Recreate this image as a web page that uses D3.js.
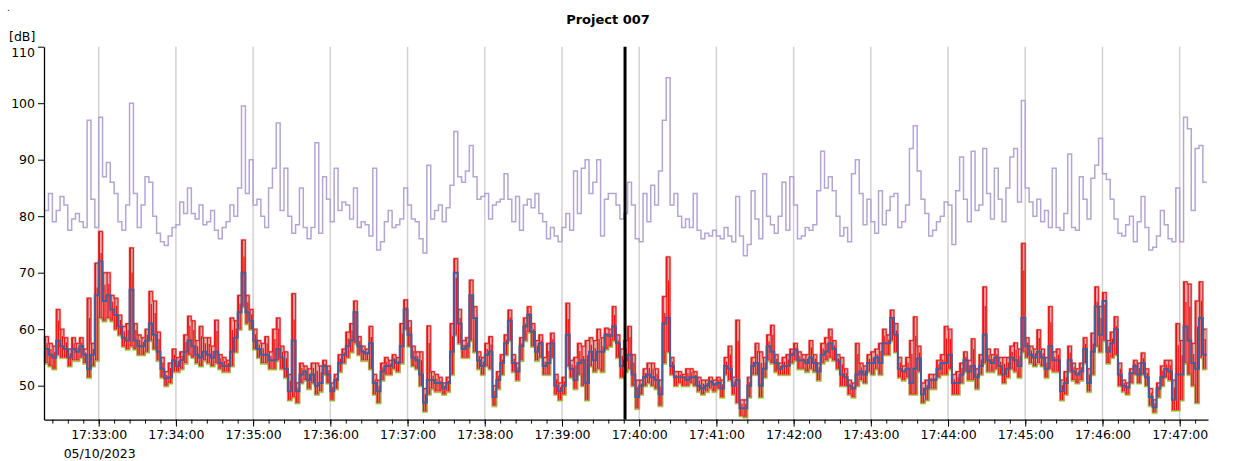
<!DOCTYPE html>
<html>
<head>
<meta charset="utf-8">
<script src="https://cdn.jsdelivr.net/npm/d3@7"></script>
<style>
  body { margin: 0; background: #fff; }
  svg { display: block; }
</style>
</head>
<body>
<div id="chart"></div>
<script>
// Chart text
const chartTitle = "Project 007";
const unitLabel = "[dB]";
const dateLabel = "05/10/2023";

// Time base: one value every 3 s from the first sample
const startTime = "17:32:18";
const stepSeconds = 3;
const axisStart = "17:32:17";
const axisEnd = "17:47:22";
const cursorTime = "17:39:49";
const yTicks = [50, 60, 70, 80, 90, 100, 110];

// Upper (peak) trace, purple
const peakLevel = [
  81, 84, 79, 81, 83.5, 82, 77.5, 79.5, 80.5, 79, 78, 97, 83, 78, 97.5, 87, 89.5, 86, 84, 79,
  77.5, 82, 100, 84, 78, 82, 87, 86, 80, 77, 75.5, 74.8, 76.5, 78, 78.5, 82.5, 80.5, 85, 80.5, 79.5,
  82, 78.5, 79, 81, 77.5, 76, 78, 79, 82, 80, 85, 99.5, 84, 90, 82, 83,
  80, 78, 85, 88.5, 96.5, 81, 88.5, 80, 77, 78.5, 85, 78, 76, 78, 93, 77, 87, 83, 79, 88.5,
  81, 82.5, 82, 79.5, 85, 78, 79, 78.5, 76.5, 88.5, 74, 75.5, 79, 81, 78, 78.5, 79.5, 85, 82,
  79.5, 79, 76, 73.5, 89, 79.5, 81, 82, 79, 81.5, 85.5, 95, 87, 86, 88, 92.5, 87, 83, 83.5, 84,
  79.5, 82, 82.5, 83, 87.5, 83, 79, 83.5, 77.5, 82, 83, 81.5, 84, 80.5, 79, 76, 78, 76.5, 75.5, 78,
  80.5, 77.5, 88, 80.5, 88.5, 90, 84, 86, 90, 76.5, 83, 84, 84, 82, 79.5, 80.5, 86, 82, 76, 75.5,
  84, 79, 85.5, 82, 88, 97, 104.5, 82, 84, 80, 78, 79.5, 78, 84, 77.5, 76, 77, 76.5, 77.5, 76.5,
  76, 78, 76.5, 75.5, 83.5, 76.5, 73, 75, 84.5, 79.5,
  76, 87.5, 80, 78.5, 77, 80, 86, 77.5, 87, 82, 76, 76.5, 78, 77.5, 78.5, 84.5, 91.5, 85, 87, 84.5,
  80, 76.5, 78, 75.5, 87.5, 90, 84, 78.5, 83, 79, 77, 84.5, 78.5, 81, 83.5, 84, 78, 79, 82, 92,
  96, 88, 83, 80.5, 76.5, 77.5, 79, 80, 82.5, 82, 75, 84.5, 90.5, 83, 79, 91.5, 81, 82, 92, 84,
  79.5, 88.5, 83, 79, 85, 90.5, 92, 82.5, 100.5, 85, 82.5, 80, 83, 79, 81, 78, 88.5, 78, 77.5,
  80.5, 91, 78, 77.5, 87, 83, 79.5, 86.7, 89, 93.8, 87.5, 86.5, 83, 79.5, 77, 76.5, 78.5, 80, 75.5, 79,
  83.5, 78, 74, 74.5, 76.5, 81, 78.5, 76, 75.5, 85, 75.5, 97.5, 95.5, 81, 92, 92.5, 86
];

// Lower traces: maximum (red), equivalent level (blue), minimum (green)
const maxLevel = [
  58.7, 57.5, 57, 63.5, 60, 58.5, 56.5, 58.5, 57.5, 58.5, 56.5, 65.5, 57.5, 71.7, 77.3, 70, 70, 66, 65.5, 62.5,
  60.5, 61, 74.4, 61, 59, 58.5, 60, 66.7, 65, 59.5, 55, 52.5, 54, 56.5, 55, 56, 59, 62.3, 61.5, 58,
  60.5, 58.5, 58.5, 57, 61.6, 55.5, 55, 54.5, 62, 61.5, 66, 75.8, 66, 63.5, 60, 58,
  57.5, 58.7, 56, 60, 62, 57, 56, 52, 66.3, 50.5, 54, 53.5, 53, 54, 54, 53.5, 54.5, 53.5, 50.5, 52,
  55.5, 56.5, 59.5, 61, 65, 58.7, 57, 56.5, 60.5, 52, 51, 54, 55, 54.5, 55.5, 55, 61, 65.2, 61.5,
  57, 56, 56, 49.5, 60.6, 52.5, 52, 51.5, 50.5, 51.5, 61, 72.5, 63.5, 58, 58.5, 68.7, 64, 56, 55, 57.5,
  58.7, 50, 52.5, 55.5, 59, 63.4, 55.5, 54, 58.5, 62, 64, 61, 58, 59, 55, 57.5, 59.3, 52, 50.5, 51.5,
  64.6, 54.5, 55, 57.5, 57, 58, 58.5, 58, 60, 58.5, 60.2, 60, 64, 59, 56.5, 58, 60.5, 55.5, 51, 51,
  53, 54, 54, 53, 51, 65.8, 72.8, 55, 52.5, 52.5, 52, 53, 53, 52.5, 51.5, 51, 51, 51.5, 51, 51.5,
  51, 55, 57, 51.5, 61.6, 47.5, 47.5, 51.5, 55, 57.5,
  56, 55, 59, 60.7, 55.5, 54, 55, 55.5, 56.5, 57.5, 56, 55.5, 55.5, 58, 55.5, 54, 57.5, 58.5, 60, 58,
  55.5, 55, 53, 51, 50.5, 57.5, 54, 53.5, 55.5, 56, 56.5, 57.5, 60, 59, 63.4, 61, 55, 53.5, 55, 58,
  62.2, 57, 50.5, 51, 52, 52, 54.5, 55.5, 60.5, 60, 52, 52.5, 54, 56, 54.5, 58.3, 53, 55.5, 67.5, 56.5,
  55.5, 56.5, 55, 55, 55, 57, 57.6, 56.5, 75.2, 58.5, 57, 56.5, 59.9, 56.5, 55, 64, 56, 56.5, 51,
  52.5, 57, 54, 53, 54, 58.5, 53, 59.3, 67.5, 64, 66.5, 58, 59.5, 62.2, 54, 51, 50.5, 53, 54.5, 54,
  55.8, 53, 49.5, 47.5, 50.5, 53.5, 54.5, 54.5, 51, 61, 58, 68.4, 68, 57.5, 65, 68.4, 60
];
const eqLevel = [
  56.5, 55.5, 55, 58, 57, 56.5, 55, 56.5, 56, 57, 55.5, 53, 55.5, 66, 72, 65, 66, 63.5, 62.5, 60.5,
  58.5, 58, 67, 58, 57, 57, 58, 61, 59, 56, 53, 51.3, 51.5, 54.5, 53.5, 54.5, 56, 58, 57, 55.5,
  55, 56, 55.5, 55, 56, 54, 53.5, 53.5, 56, 58.5, 63, 70, 63, 61.5, 58, 56.5,
  55.5, 55.5, 54.5, 54.5, 56.5, 55, 53, 49, 58, 49, 52, 52.5, 51, 52, 50, 50.5, 53.5, 52, 49, 51,
  54, 55.5, 57, 58, 63, 57, 56, 55.7, 57.5, 50.5, 49, 52.5, 53.5, 53.5, 54.5, 54, 57, 63.5, 59,
  55, 54.5, 52, 47, 51, 51, 50.5, 50.5, 49.5, 50.5, 56, 70, 61, 56.5, 57, 66, 62, 54.5, 53.5, 55.5,
  56, 48, 51, 54, 57.5, 61.5, 54, 52.5, 57, 60.5, 62.5, 59.5, 56, 57.5, 53.5, 54, 57.5, 50, 49, 50,
  59, 53, 51, 54, 54.5, 50.5, 56, 54.5, 56, 56, 59, 58.8, 60.5, 57.5, 53.5, 54.5, 55.5, 52, 48, 50,
  51.5, 52, 51.5, 51, 48.5, 61, 62, 53.5, 51.5, 51.5, 51.5, 51, 51.5, 51.5, 50, 49.5, 50, 50.7, 50.2, 50.5,
  49.5, 53.5, 53, 50, 51, 46, 46, 50, 53.5, 54,
  50, 53, 57, 56, 54, 53, 53.5, 53.5, 55.5, 56.3, 54.5, 54.5, 54, 55, 54, 52.5, 55.5, 56, 57.5, 56.5,
  54.5, 52, 51.5, 50, 49.5, 52, 52.5, 52, 54, 54, 55, 54, 57.5, 57.5, 62, 59, 53, 52.5, 53, 50.5,
  53, 54.8, 48.5, 49.5, 51, 51, 53, 54, 54, 55.5, 50.5, 50.5, 52, 54.5, 52.5, 53.5, 51.5, 53.5, 59, 54.5,
  54, 55, 53.5, 52, 53, 55, 54.5, 53.5, 62, 57, 55.5, 55, 56, 55, 53, 57, 54.5, 54.5, 49,
  50.5, 54.5, 52.5, 52, 52.5, 56.5, 50.5, 56, 64, 59, 65, 56, 57.5, 60, 52, 50, 49.7, 52.2, 53.5, 52,
  54, 51.5, 48, 46.2, 49.5, 51.5, 53, 52.5, 47.5, 52, 52, 60.5, 58, 54, 53, 62, 55.5
];
const minLevel = [
  54, 53.5, 53, 55.5, 55, 55, 53.5, 54.5, 54.5, 55, 54, 51.5, 53.5, 54.5, 62, 61.5, 62, 61.5, 60, 59,
  57, 56.5, 57, 56.5, 55.5, 55.5, 56, 58, 56.5, 54.5, 51.5, 50, 50.5, 52.5, 52.5, 53, 54, 55.5, 55, 54,
  53.5, 54.5, 54, 53.5, 54, 53, 52.5, 52.5, 53.5, 56, 60, 64, 61, 60, 56.5, 55,
  54, 54, 53, 53, 54.5, 53, 51.5, 47.5, 48, 47, 50.5, 51, 49.5, 50.5, 48.5, 49, 52, 50.5, 47.5, 49.5,
  52.5, 54, 55, 56, 57.5, 55.5, 54.5, 54.5, 53, 48.5, 47, 51, 52, 52, 53, 52.5, 54, 60, 57,
  53.5, 53, 50, 45.5, 48.5, 49.5, 49, 49, 48.5, 49, 52, 59, 57.5, 55, 55, 58, 56, 53, 52, 53.5,
  53, 46.5, 49.5, 52, 55.5, 58, 52.5, 51, 54.5, 58, 59.5, 57, 54.5, 55, 52, 52, 55, 48.5, 47.5, 48.5,
  53.5, 51.5, 49.5, 52, 50, 47.5, 53.5, 52.5, 53, 52.5, 56.5, 57, 58, 55, 51.5, 52.5, 53, 50, 46, 48.5,
  50, 50.5, 50, 49.5, 46.5, 54, 56, 52, 50, 50.5, 50, 50, 50.5, 50, 49, 48.5, 49, 49.5, 49, 49.5,
  48, 52, 51, 48.5, 47, 44.7, 44.5, 48, 52, 52,
  48, 51.5, 54.5, 54, 52.5, 52, 52, 52, 54, 54.5, 53, 53, 52.5, 53, 52.5, 51, 54, 54.5, 55, 54.5,
  53, 50, 50, 48.5, 48, 50, 51, 50.5, 52.5, 52, 53, 52, 55.5, 55.5, 58, 56, 51.5, 51, 51.5, 48.5,
  48.5, 52.5, 47, 47.5, 49.5, 49.5, 51.5, 52, 52, 53, 48.5, 48.5, 50.5, 52.5, 51, 51, 49.5, 52, 54, 52.5,
  52.5, 53, 52, 50.5, 51.5, 53, 52.5, 51.5, 56, 55, 54, 53.5, 54, 53.5, 51.5, 53, 52.5, 52.5, 47.5,
  48.5, 52.5, 51, 50.5, 51, 54, 49, 52, 57, 56, 58, 54, 55, 55.5, 50, 49, 48.5, 50.5, 52, 50.5,
  52, 50, 46.5, 45.3, 48, 50, 51.5, 51, 45.7, 45.7, 47.5, 54, 52, 50, 47, 55, 53
];

const W = 1237, H = 461;
const plot = { left: 44, right: 1208, top: 46.7, bottom: 419.6 };
const font = "'DejaVu Sans', Verdana, sans-serif";

const svg = d3.select("#chart")
  .append("svg")
    .attr("width", W)
    .attr("height", H);

const parseTime = d3.timeParse("%H:%M:%S");
const t0 = parseTime(startTime);
const times = peakLevel.map((_, i) => new Date(+t0 + i * stepSeconds * 1000));
const tEnd = new Date(+t0 + peakLevel.length * stepSeconds * 1000);

// one row per sample, plus a closing row so the last step gets its width
const rows = times.map((t, i) => ({
  t: t, pk: peakLevel[i], hi: maxLevel[i], eq: eqLevel[i], lo: minLevel[i]
}));
const stepRows = rows.concat([Object.assign({}, rows[rows.length - 1], { t: tEnd })]);

const x = d3.scaleTime()
  .domain([new Date(+parseTime(axisStart) + 500), parseTime(axisEnd)])
  .range([plot.left, plot.right]);

const y = d3.scaleLinear()
  .domain([44, 110])
  .range([plot.bottom, plot.top]);

// vertical grid at each minute
svg.append("g")
  .selectAll("line")
  .data(x.ticks(d3.timeMinute.every(1)))
  .join("line")
    .attr("x1", d => x(d)).attr("x2", d => x(d))
    .attr("y1", plot.top).attr("y2", plot.bottom)
    .style("stroke", "#d2d2d2")
    .style("stroke-width", 1.5);

// purple peak trace
const peakLine = d3.line()
  .curve(d3.curveStepAfter)
  .x(d => x(d.t))
  .y(d => y(d.pk));
svg.append("path")
  .datum(stepRows)
  .attr("d", peakLine)
  .style("fill", "none")
  .style("stroke", "#b3a6d2")
  .style("stroke-width", 1.5);

// green minimum trace (sits just under the band)
const minLine = d3.line()
  .curve(d3.curveStepAfter)
  .x(d => x(d.t))
  .y(d => y(d.lo) + 1);
svg.append("path")
  .datum(stepRows)
  .attr("d", minLine)
  .style("fill", "none")
  .style("stroke", "#b4e05c")
  .style("stroke-width", 1.8);

// translucent dark red band between min and max
const band = d3.area()
  .curve(d3.curveStepAfter)
  .x(d => x(d.t))
  .y0(d => y(d.lo))
  .y1(d => y(d.hi));
svg.append("path")
  .datum(stepRows)
  .attr("d", band)
  .style("fill", "#c04545")
  .style("fill-opacity", 0.45)
  .style("stroke", "#b04040")
  .style("stroke-opacity", 0.4)
  .style("stroke-width", 2.2);

// bright red max trace: vertical strokes inside each step plus its top edge
const redStrokes = rows.map((d, i) => {
  const a = x(d.t), b = x(stepRows[i + 1].t);
  const top = y(d.hi), bot = y(d.lo);
  return `M${a + 0.7},${top}V${bot}M${(a + b) / 2 + 0.5},${top + (bot - top) * 0.25}V${bot}`;
}).join("");
svg.append("path")
  .attr("d", redStrokes)
  .style("fill", "none")
  .style("stroke", "#f01010")
  .style("stroke-width", 1.2);

const maxLine = d3.line()
  .curve(d3.curveStepAfter)
  .x(d => x(d.t))
  .y(d => y(d.hi));
svg.append("path")
  .datum(stepRows)
  .attr("d", maxLine)
  .style("fill", "none")
  .style("stroke", "#f01010")
  .style("stroke-width", 0.9);

// blue equivalent level
const eqLine = d3.line()
  .curve(d3.curveStepAfter)
  .x(d => x(d.t))
  .y(d => y(d.eq));
svg.append("path")
  .datum(stepRows)
  .attr("d", eqLine)
  .style("fill", "none")
  .style("stroke", "#4b5c98")
  .style("stroke-width", 2);

// cursor
svg.append("line")
  .attr("x1", x(parseTime(cursorTime))).attr("x2", x(parseTime(cursorTime)))
  .attr("y1", plot.top).attr("y2", plot.bottom)
  .style("stroke", "#000")
  .style("stroke-width", 3);

// axes
const yAxis = svg.append("g")
  .attr("transform", `translate(${plot.left},0)`)
  .call(d3.axisLeft(y).tickValues(yTicks).tickSize(6).tickSizeOuter(0).tickPadding(3));
// the top label sits a little below its tick so it stays clear of the unit
yAxis.selectAll(".tick text")
  .filter(d => d === 110)
  .attr("dy", "0.8em");

const xAxis = svg.append("g")
  .attr("transform", `translate(0,${plot.bottom})`)
  .call(d3.axisBottom(x)
    .ticks(d3.timeMinute.every(1))
    .tickFormat(d3.timeFormat("%H:%M:%S"))
    .tickSize(7).tickSizeOuter(0).tickPadding(4));

svg.append("g")
  .attr("transform", `translate(0,${plot.bottom})`)
  .call(d3.axisBottom(x)
    .ticks(d3.timeSecond.every(12))
    .tickFormat("")
    .tickSize(4).tickSizeOuter(0))
  .select(".domain").remove();

[yAxis, xAxis].forEach(g => {
  g.selectAll("text")
    .style("font-family", font)
    .style("font-size", "12.5px")
    .style("fill", "#000");
  g.select(".domain").style("stroke", "#000").style("stroke-width", 1.3);
});

// labels
svg.append("text")
  .attr("x", 608).attr("y", 24)
  .attr("text-anchor", "middle")
  .style("font-family", font)
  .style("font-weight", "bold")
  .style("font-size", "13px")
  .text(chartTitle);

svg.append("text")
  .attr("x", 9).attr("y", 41)
  .style("font-family", font)
  .style("font-size", "12.5px")
  .text(unitLabel);

svg.append("text")
  .attr("x", x(parseTime("17:33:00")) + 1).attr("y", 458)
  .attr("text-anchor", "middle")
  .style("font-family", font)
  .style("font-size", "12.5px")
  .text(dateLabel);

svg.append("text")
  .attr("x", 7).attr("y", 11)
  .style("font-family", font)
  .style("font-size", "9px")
  .text(".");
</script>
</body>
</html>
